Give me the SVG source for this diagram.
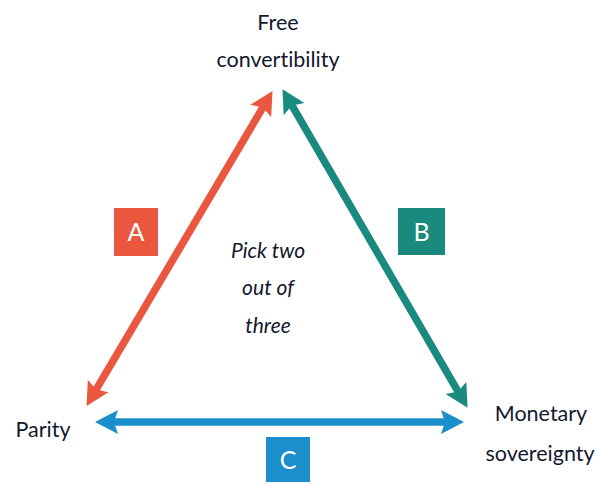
<svg xmlns="http://www.w3.org/2000/svg" width="597" height="485" viewBox="0 0 597 485">
<style>
text{font-variant-ligatures:none}
.lbl{font-family:Lato,"Open Sans","DejaVu Sans",sans-serif;font-size:21.5px;fill:#14182e;text-anchor:middle}
.mid{font-family:Lato,"Open Sans","DejaVu Sans",sans-serif;font-size:21px;font-style:italic;fill:#14182e;text-anchor:middle}
.box{font-family:Lato,"Open Sans","DejaVu Sans",sans-serif;font-size:25px;fill:#ffffff;text-anchor:middle}
.ln{fill:none;stroke-width:7.5}
</style>
<defs>
<marker id="mr" viewBox="0 -13 26 26" markerUnits="userSpaceOnUse" markerWidth="26" markerHeight="26" refX="10" refY="0" orient="auto-start-reverse"><path d="M0,-12 L23,0 L0,12 L4,0 Z" fill="#e9573f"/></marker>
<marker id="mt" viewBox="0 -13 26 26" markerUnits="userSpaceOnUse" markerWidth="26" markerHeight="26" refX="10" refY="0" orient="auto-start-reverse"><path d="M0,-12 L23,0 L0,12 L4,0 Z" fill="#1a8a7e"/></marker>
<marker id="mb" viewBox="0 -13 26 26" markerUnits="userSpaceOnUse" markerWidth="26" markerHeight="26" refX="10" refY="0" orient="auto-start-reverse"><path d="M0,-12 L23,0 L0,12 L4,0 Z" fill="#1a8fcc"/></marker>
</defs>
<g id="connectors">
<path class="ln" d="M93.1,394.7 L265.9,102.3" stroke="#e9573f" marker-start="url(#mr)" marker-end="url(#mr)"/>
<path class="ln" d="M289,100.4 L461,396.6" stroke="#1a8a7e" marker-start="url(#mt)" marker-end="url(#mt)"/>
<path class="ln" d="M108,422 L451,422" stroke="#1a8fcc" marker-start="url(#mb)" marker-end="url(#mb)"/>
</g>
<g id="free"><text class="lbl" x="278" y="30">Free</text><text class="lbl" x="278" y="67">convertibility</text></g>
<g id="parity"><text class="lbl" x="43" y="437">Parity</text></g>
<g id="monetary"><text class="lbl" x="541" y="421">Monetary</text><text class="lbl" x="540" y="461">sovereignty</text></g>
<g id="center"><text class="mid" x="268" y="258">Pick two</text><text class="mid" x="268" y="295">out of</text><text class="mid" x="268" y="333">three</text></g>
<g id="boxA"><rect x="114" y="208" width="44" height="48" fill="#e9573f"/><text class="box" x="136" y="241">A</text></g>
<g id="boxB"><rect x="398" y="208" width="47" height="47" fill="#1a8a7e"/><text class="box" x="421.5" y="241">B</text></g>
<g id="boxC"><rect x="266" y="437" width="44" height="45" fill="#1a8fcc"/><text class="box" x="288" y="469">C</text></g>
</svg>
